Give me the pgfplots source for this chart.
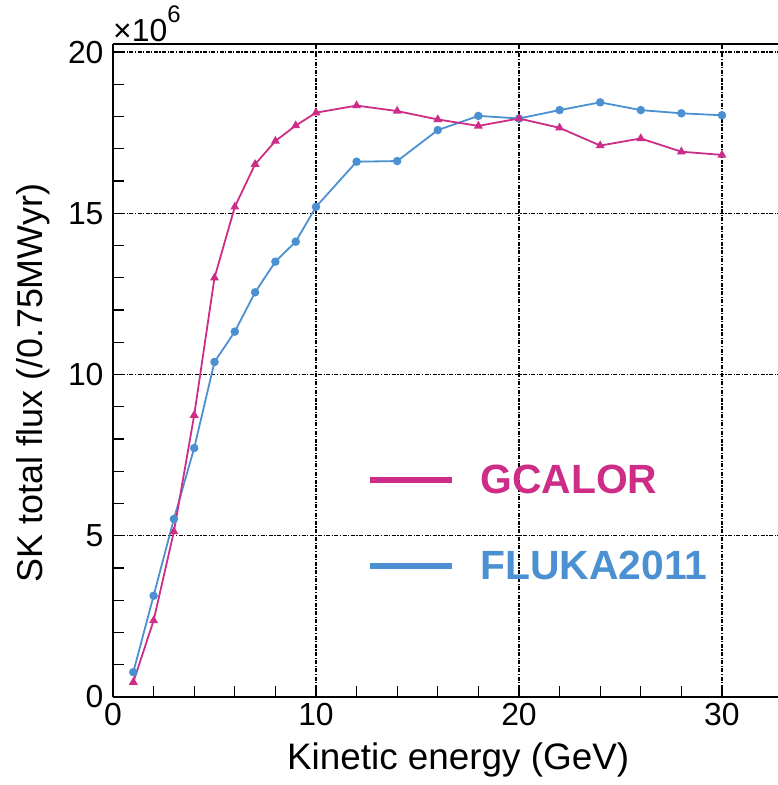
\documentclass[border=0pt]{standalone}
\usepackage{pgfplots}
\pgfplotsset{compat=1.18}
\usepackage{fontspec}
\setmainfont{Liberation Sans}
\definecolor{gcal}{RGB}{205,45,135}
\definecolor{fluka}{RGB}{75,145,210}

\begin{document}
\begin{tikzpicture}
\begin{axis}[
  scale only axis, width=665bp, height=653bp,
  xmin=0, xmax=32.76, ymin=0, ymax=20.25,
  clip=false,
  axis x line*=box, axis y line*=left,
  xtick pos=left, ytick pos=left,
  xtick={0,10,20,30}, ytick={0,5,10,15,20},
  minor x tick num=4, minor y tick num=4,
  tick align=inside,
  major tick length=11bp, minor tick length=11bp,
  every tick/.style={black, line width=1.3bp},
  axis line style={black, line width=1.8bp},
  grid=major,
  major grid style={black, line width=1.3bp, dash pattern=on 4bp off 1.5bp on 1.2bp off 1.5bp},
  tick label style={font=\fontsize{32}{32}\selectfont},
  /pgf/number format/assume math mode=true,
  xticklabel style={yshift=-3bp},
  yticklabel style={xshift=-6bp},
  xlabel={Kinetic energy (GeV)},
  ylabel={SK total flux (/0.75MWyr)},
  xlabel style={font=\fontsize{37}{37}\selectfont, at={(axis description cs:0.519,-0.0965)}, anchor=center},
  ylabel style={font=\fontsize{36}{36}\selectfont, at={(axis description cs:-0.12,0.481)}, anchor=center},
  legend style={at={(axis cs:12.5,7.2)}, anchor=north west, draw=none, fill=none, inner sep=0pt,
    row sep=56bp, column sep=25bp, font=\fontsize{41}{41}\selectfont\bfseries, nodes={inner sep=0pt}},
  legend cell align=left,
  legend image code/.code={\draw[#1, line width=6.5bp] (0bp,0bp) -- (82bp,0bp);},
]
\addplot[fluka, line width=1.8bp, mark=*, mark size=3.3bp, forget plot] coordinates {
(1,0.77) (2,3.14) (3,5.52) (4,7.72) (5,10.39) (6,11.33) (7,12.55) (8,13.50) (9,14.12) (10,15.20)
(12,16.60) (14,16.62) (16,17.58) (18,18.02) (20,17.94) (22,18.20) (24,18.44) (26,18.20) (28,18.10) (30,18.04)
};
\addplot[gcal, line width=1.8bp, mark=triangle*, mark size=3.4bp, forget plot] coordinates {
(1,0.46) (2,2.37) (3,5.13) (4,8.74) (5,13.00) (6,15.20) (7,16.52) (8,17.24) (9,17.72) (10,18.12)
(12,18.34) (14,18.17) (16,17.91) (18,17.71) (20,17.94) (22,17.65) (24,17.10) (26,17.32) (28,16.91) (30,16.81)
};
\addlegendimage{gcal}
\addlegendentry{\textcolor{gcal}{GCALOR}}
\addlegendimage{fluka}
\addlegendentry{\textcolor{fluka}{FLUKA2011}}
\node[anchor=base west, inner sep=0pt, font=\fontsize{32}{32}\selectfont] at ([yshift=2bp]rel axis cs:0,1) {×10\raisebox{0.6em}{\fontsize{24}{24}\selectfont 6}};
\coordinate (BL) at (rel axis cs:0,0);
\coordinate (TR) at (rel axis cs:1,1);
\end{axis}
\pgfresetboundingbox
\path ([xshift=-113bp,yshift=-88bp]BL) rectangle ([yshift=44bp]TR);
\end{tikzpicture}
\end{document}
